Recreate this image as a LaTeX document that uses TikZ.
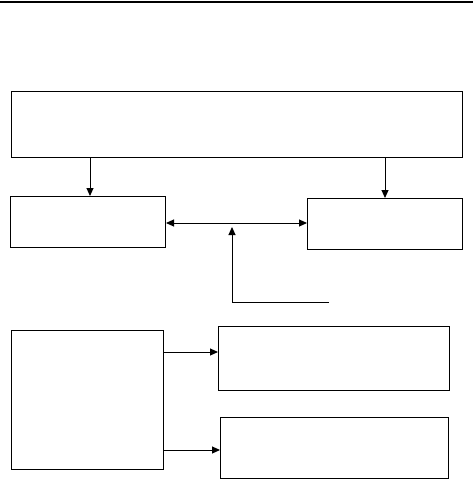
\documentclass[tikz,border=0pt]{standalone}
\usetikzlibrary{arrows.meta,calc}
\tikzset{
  box/.style={draw, line width=1pt, rectangle, anchor=north west, inner sep=0pt},
  arr/.style={line width=1pt, -{Triangle[length=8pt,width=7pt]}},
  dblarr/.style={line width=1pt, {Triangle[length=8pt,width=7pt]}-{Triangle[length=8pt,width=7pt]}}
}

\begin{document}
\begin{tikzpicture}[x=1pt, y=-1pt]
\useasboundingbox (0,0) rectangle (473,479);

% RULE AT THE TOP
\draw[line width=2pt] (0,2) -- (473,2);

% Top box
\node[box, minimum width=451pt, minimum height=66pt] (top) at (11,91) {};

% Middle boxes
\node[box, minimum width=155pt, minimum height=51pt] (midL) at (10,196) {};
\node[box, minimum width=155pt, minimum height=51pt] (midR) at (307,198) {};
\draw[arr] (top.south -| 90,0) -- (midL.north -| 90,0);
\draw[arr] (top.south -| 385,0) -- (midR.north -| 385,0);
\draw[dblarr] (midL.east |- 0,223) -- (midR.west |- 0,223);

% Feed from below
\coordinate (feed) at (329,302);
\coordinate (feedtip) at (232,227);
\draw[arr] (feed) -- (feedtip |- feed) -- (feedtip);

% Bottom boxes
\node[box, minimum width=152pt, minimum height=139pt] (botL) at (11,330) {};
\node[box, minimum width=231pt, minimum height=64pt] (botA) at (218,326) {};
\node[box, minimum width=228pt, minimum height=61pt] (botB) at (220,417) {};
\draw[arr] (botL.east |- 0,352) -- (botA.west |- 0,352);
\draw[arr] (botL.east |- 0,450) -- (botB.west |- 0,450);

\end{tikzpicture}
\end{document}
